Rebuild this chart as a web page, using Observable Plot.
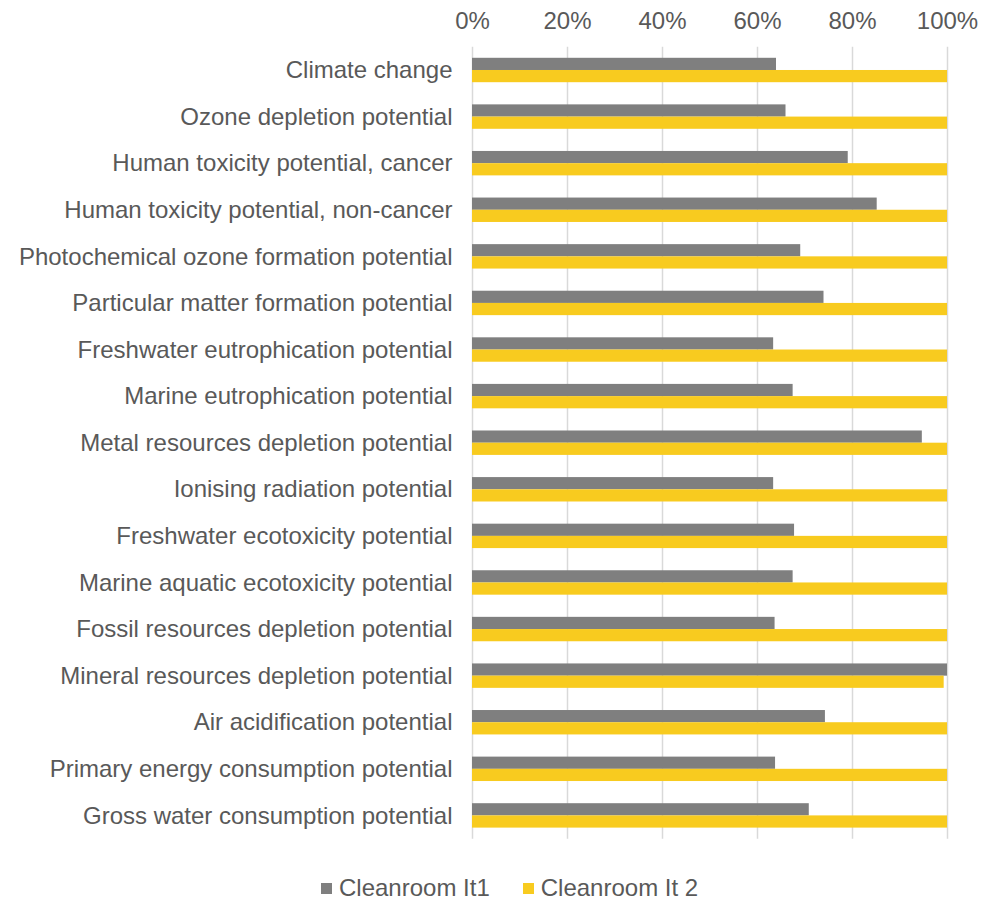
<!DOCTYPE html>
<html>
<head>
<meta charset="utf-8">
<script src="https://cdn.jsdelivr.net/npm/d3@7"></script>
<script src="https://cdn.jsdelivr.net/npm/@observablehq/plot@0.6"></script>
<style>
  html, body { margin: 0; padding: 0; background: #fff; }
  #chart { position: relative; width: 996px; height: 901px; font-family: "Liberation Sans", Arial, sans-serif; }
  .legend { position: absolute; top: 874px; left: 321px; display: flex; gap: 33px;
            font: 24px "Liberation Sans", Arial, sans-serif; color: #595959; line-height: 28px; }
  .legend span.item { display: inline-flex; align-items: center; }
  .legend span.sw { display: inline-block; width: 11px; height: 11px; margin-right: 7px; }
</style>
</head>
<body>
<div id="chart"></div>
<script>
// Impact categories, top to bottom
const categories = [
  "Climate change",
  "Ozone depletion potential",
  "Human toxicity potential, cancer",
  "Human toxicity potential, non-cancer",
  "Photochemical ozone formation potential",
  "Particular matter formation potential",
  "Freshwater eutrophication potential",
  "Marine eutrophication potential",
  "Metal resources depletion potential",
  "Ionising radiation potential",
  "Freshwater ecotoxicity potential",
  "Marine aquatic ecotoxicity potential",
  "Fossil resources depletion potential",
  "Mineral resources depletion potential",
  "Air acidification potential",
  "Primary energy consumption potential",
  "Gross water consumption potential"
];

const seriesNames = ["Cleanroom It1", "Cleanroom It 2"];
const seriesColors = ["#7f7f7f", "#f8cb1f"];

// Relative impact (share of the larger of the two iterations)
const it1Values = [0.640, 0.660, 0.791, 0.852, 0.691, 0.740, 0.634, 0.675, 0.947,
                   0.634, 0.678, 0.675, 0.637, 1.000, 0.743, 0.638, 0.709];
const it2Values = [1.000, 1.000, 1.000, 1.000, 1.000, 1.000, 1.000, 1.000, 1.000,
                   1.000, 1.000, 1.000, 1.000, 0.993, 1.000, 1.000, 1.000];

const xTicks = [0, 0.2, 0.4, 0.6, 0.8, 1.0];

const rows = categories.flatMap((c, i) => [
  {category: c, series: seriesNames[0], value: it1Values[i]},
  {category: c, series: seriesNames[1], value: it2Values[i]}
]);

const bandPaddingInner = 0.476;
const halfBar = 12.2;
const pct = d3.format(".0%");

const chart = Plot.plot({
  width: 996,
  height: 858,
  marginTop: 46.7,
  marginBottom: 19.3,
  marginLeft: 472,
  marginRight: 49,
  style: {fontFamily: "'Liberation Sans', Arial, sans-serif", fontSize: "24px", color: "#595959", background: "#fff"},
  x: {domain: [0, 1], axis: null},
  y: {domain: categories, paddingInner: bandPaddingInner, paddingOuter: bandPaddingInner / 2, round: false, axis: null},
  color: {domain: seriesNames, range: seriesColors},
  marks: [
    Plot.gridX(xTicks, {stroke: "#d9d9d9", strokeOpacity: 1, strokeWidth: 1.5}),
    Plot.axisX(xTicks, {anchor: "top", tickSize: 0, tickPadding: 18, tickFormat: pct, fontSize: 24, fill: "#595959", label: null}),
    Plot.axisY({anchor: "left", tickSize: 0, tickPadding: 20, fontSize: 24, fill: "#595959", label: null}),
    Plot.barX(rows.filter(d => d.series === seriesNames[0]),
      {x: "value", y: "category", fill: "series", insetBottom: halfBar}),
    Plot.barX(rows.filter(d => d.series === seriesNames[1]),
      {x: "value", y: "category", fill: "series", insetTop: halfBar})
  ]
});

const root = document.getElementById("chart");
root.appendChild(chart);

const legend = document.createElement("div");
legend.className = "legend";
seriesNames.forEach((name, i) => {
  const item = document.createElement("span");
  item.className = "item";
  const sw = document.createElement("span");
  sw.className = "sw";
  sw.style.background = seriesColors[i];
  item.appendChild(sw);
  item.appendChild(document.createTextNode(name));
  legend.appendChild(item);
});
root.appendChild(legend);
</script>
</body>
</html>
